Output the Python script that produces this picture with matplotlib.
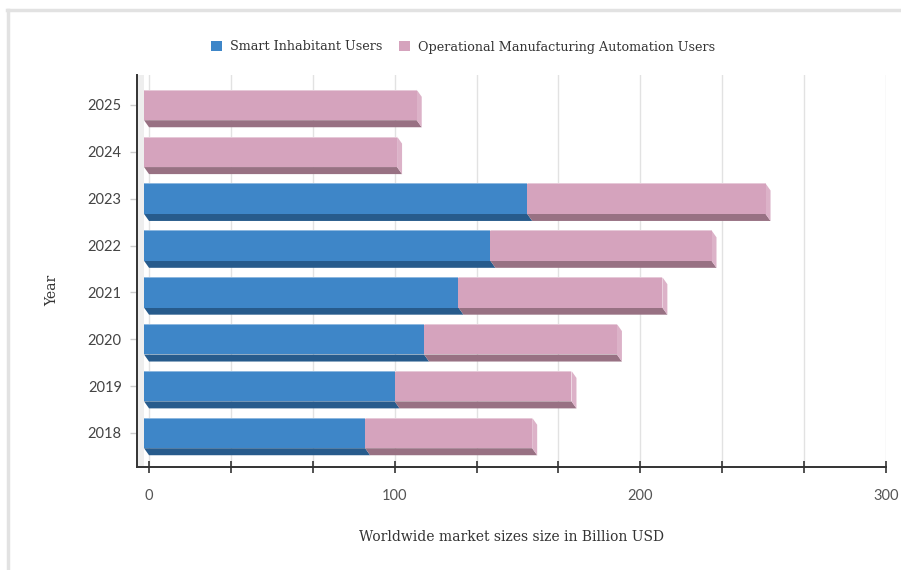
import numpy as np
import matplotlib
matplotlib.use('Agg')
import matplotlib.pyplot as plt
from matplotlib.patches import Polygon, Rectangle
from matplotlib.lines import Line2D

# data
years = ['2018', '2019', '2020', '2021', '2022', '2023', '2024', '2025']
smart_users = [90, 102, 114, 128, 141, 156, 0, 0]
manufacturing_users = [68, 72, 78.5, 83, 90, 97, 103, 111]
series_names = ['Smart Inhabitant Users', 'Operational Manufacturing Automation Users']

# colours: front face, bottom face, side face
blue = ('#3e86c8', '#275b8c', '#5a97cf')
pink = ('#d5a3bd', '#987183', '#dcb2c8')

serif = ['DejaVu Serif']
sans = ['Lato', 'DejaVu Sans']

fig = plt.figure(figsize=(9.01, 5.70), dpi=100)
ax = fig.add_axes([137/901, 1-467/570, (886-137)/901, (467-75)/570])

xmin, xmax = -4.9, 300
ax.set_xlim(xmin, xmax)
ax.set_ylim(-0.726, 7.64)

h = 0.65       # bar thickness (category units)
dx = 2.03      # depth offset in x (data units)
dy = 0.15      # depth offset in y (category units)


def draw_bar(yc, a, b, cols, side):
    front, bottom, light = cols
    y0, y1 = yc - h/2, yc + h/2
    ax.add_patch(Polygon([(a-dx, y0), (b-dx, y0), (b, y0-dy), (a, y0-dy)],
                         closed=True, fc=bottom, ec='none', zorder=3))
    if side:
        ax.add_patch(Polygon([(b-dx, y1), (b, y1-dy), (b, y0-dy), (b-dx, y0)],
                             closed=True, fc=light, ec='none', zorder=3))
    ax.add_patch(Rectangle((a-dx, y0), b-a, h, fc=front, ec='none', zorder=4))
    ax.plot([a-dx, b-dx], [y1, y1], color='white', lw=0.6, alpha=0.5, zorder=5)


# left wall strip
ax.add_patch(Rectangle((xmin, -0.726), -dx - xmin, 8.366, fc='#eeeeee',
                       ec='none', zorder=1))

for i, y in enumerate(years):
    s = smart_users[i]
    m = manufacturing_users[i]
    if s > 0:
        draw_bar(i, 0, s, blue, False)
    draw_bar(i, s, s + m, pink, True)

# axes styling
for sp in ['top', 'right']:
    ax.spines[sp].set_visible(False)
ax.spines['left'].set_color('#333333')
ax.spines['bottom'].set_color('#333333')
ax.spines['left'].set_linewidth(1.4)
ax.spines['bottom'].set_linewidth(1.4)

ax.set_xticks([0, 100, 200, 300])
ax.set_xticks([100/3, 200/3, 400/3, 500/3, 700/3, 800/3], minor=True)
ax.set_xticklabels(['0', '100', '200', '300'], family=sans, fontsize=10.5,
                   color='#555555')
ax.tick_params(axis='x', which='both', direction='inout', length=9, width=1.2,
               color='#333333', pad=11)
ax.set_axisbelow(True)
ax.grid(axis='x', which='both', color='#e2e2e2', lw=1)

ax.set_yticks(range(len(years)))
ax.set_yticklabels(years, family=sans, fontsize=10.5, color='#444444')
ax.tick_params(axis='y', length=5, width=1, color='#cccccc', pad=6)

ax.set_xlabel('Worldwide market sizes size in Billion USD', family=serif,
              fontsize=10, color='#333333', labelpad=20)
ax.set_ylabel('Year', family=serif, fontsize=10, color='#333333')
ax.yaxis.set_label_coords(-0.104, 0.45)

# legend
handles = [Rectangle((0, 0), 1, 1, fc=blue[0]), Rectangle((0, 0), 1, 1, fc=pink[0])]
leg = fig.legend(handles, series_names, loc='center', bbox_to_anchor=(463/901, 1-47/570),
                 ncol=2, frameon=False, prop={'family': serif, 'size': 9.2},
                 handlelength=0.9, handleheight=0.9, handletextpad=0.6,
                 columnspacing=1.3)
for t in leg.get_texts():
    t.set_color('#333333')

# card border (top and left)
fig.add_artist(Line2D([7/901, 1], [1-9.5/570, 1-9.5/570], transform=fig.transFigure,
                      color='#e2e2e2', lw=2.5))
fig.add_artist(Line2D([7.5/901, 7.5/901], [0, 1-9.5/570], transform=fig.transFigure,
                      color='#e2e2e2', lw=2.5))

fig.savefig('out.png', dpi=100)
